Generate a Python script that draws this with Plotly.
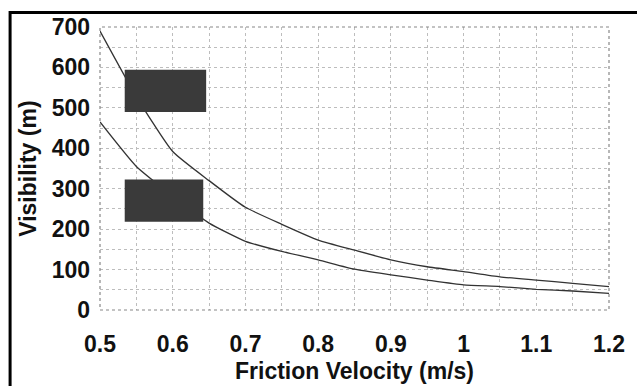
import plotly.graph_objects as go

# ---- data ----
friction_velocity = [0.5, 0.55, 0.6, 0.65, 0.7, 0.75, 0.8, 0.85, 0.9, 0.95, 1.0, 1.05, 1.1, 1.15, 1.2]
visibility_upper = [690, 528, 392, 320, 254, 212, 173, 148, 124, 107, 95, 82, 74, 66, 58]
visibility_lower = [465, 355, 282, 215, 170, 145, 124, 101, 87, 74, 62, 58, 51, 47, 41]

x_tick_vals = [0.5, 0.6, 0.7, 0.8, 0.9, 1.0, 1.1, 1.2]
x_tick_text = ["0.5", "0.6", "0.7", "0.8", "0.9", "1", "1.1", "1.2"]
y_tick_vals = [0, 100, 200, 300, 400, 500, 600, 700]
y_tick_text = ["0", "100", "200", "300", "400", "500", "600", "700"]

x_title = "Friction Velocity (m/s)"
y_title = "Visibility (m)"

W, H = 637, 386
L, R, T, B = 100, 19, 27, 76
PW, PH = W - L - R, H - T - B

def px_to_paper_x(px):
    return (px - L) / PW

def px_to_paper_y(py):
    return (H - B - py) / PH

FONT = dict(family="Liberation Sans, Arial, sans-serif", size=23, color="#111", weight="bold")

fig = go.Figure()
for ys in (visibility_upper, visibility_lower):
    fig.add_trace(go.Scatter(
        x=friction_velocity, y=ys, mode="lines",
        line=dict(color="#333333", width=1.3, shape="spline", smoothing=0.5),
        showlegend=False, hoverinfo="skip"))

grid = dict(showgrid=True, gridcolor="#bdbdbd", gridwidth=1, griddash="dot")

fig.update_xaxes(
    range=[0.5, 1.2], tickvals=x_tick_vals, ticktext=x_tick_text,
    showline=False, zeroline=False, ticks="", ticklabelstandoff=18,
    tickfont=FONT, minor=dict(dtick=0.05, tick0=0.5, **grid), **grid)
fig.update_yaxes(
    range=[0, 700], tickvals=y_tick_vals, ticktext=y_tick_text,
    showline=False, zeroline=False, ticks="", ticklabelstandoff=9,
    tickfont=FONT, minor=dict(dtick=50, tick0=0, **grid), **grid)

shapes = [
    # dotted frame around plot area
    dict(type="rect", xref="x domain", yref="y domain", x0=0, x1=1, y0=0, y1=1,
         line=dict(color="#888", width=1.2, dash="dot"), layer="above"),
    # redacted label boxes
    dict(type="rect", xref="x", yref="y", x0=0.534, x1=0.646, y0=490, y1=594,
         fillcolor="#3a3a3a", line=dict(width=0), layer="above"),
    dict(type="rect", xref="x", yref="y", x0=0.534, x1=0.642, y0=218, y1=323,
         fillcolor="#3a3a3a", line=dict(width=0), layer="above"),
    # outer black frame (top and left visible)
    dict(type="rect", xref="paper", yref="paper",
         x0=px_to_paper_x(8.5), x1=px_to_paper_x(W + 20),
         y0=px_to_paper_y(H + 20), y1=px_to_paper_y(12.5),
         line=dict(color="#000", width=3)),
]

annotations = [
    dict(text=x_title, xref="paper", yref="paper", x=0.5, y=px_to_paper_y(371),
         xanchor="center", yanchor="middle", showarrow=False, font=FONT),
    dict(text=y_title, xref="paper", yref="paper", x=px_to_paper_x(26), y=0.5,
         xanchor="center", yanchor="middle", showarrow=False, textangle=-90, font=FONT),
]

fig.update_layout(
    width=W, height=H, margin=dict(l=L, r=R, t=T, b=B),
    paper_bgcolor="white", plot_bgcolor="white",
    shapes=shapes, annotations=annotations, showlegend=False)

fig.write_html("out.html")
